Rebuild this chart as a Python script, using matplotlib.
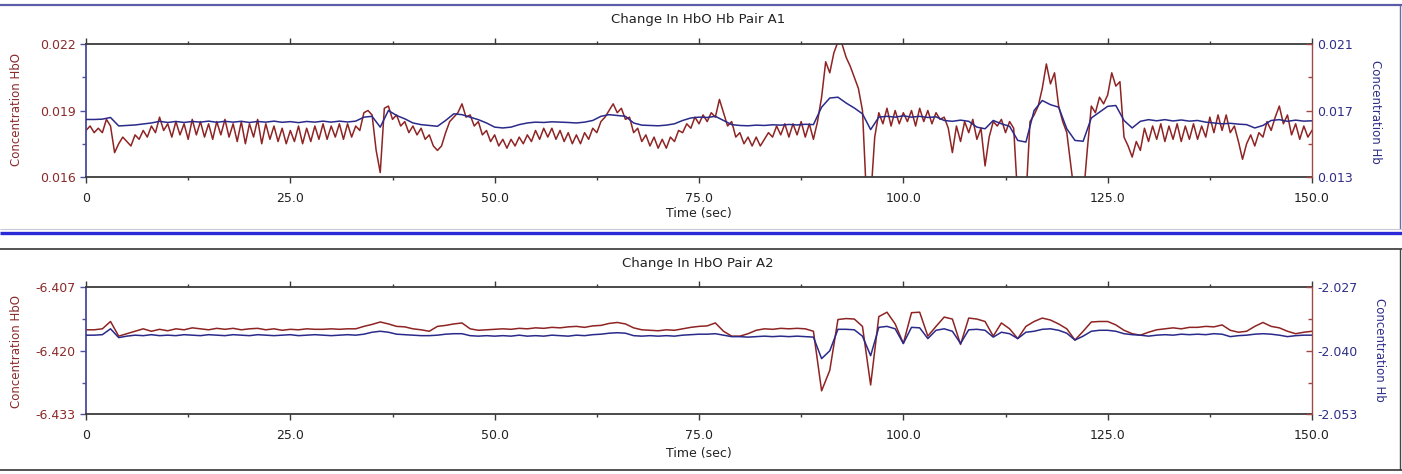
import numpy as np
import matplotlib
matplotlib.use("Agg")
import matplotlib.pyplot as plt
from matplotlib.lines import Line2D
from matplotlib.ticker import MultipleLocator, FuncFormatter

plt.rcParams['font.family'] = ['DejaVu Sans']

# ---------------- data ----------------
# Panel A1: HbO (left axis) sampled every 0.5 s
hbo_a1 = [
    0.0181, 0.0183, 0.0180, 0.0182, 0.0180, 0.0186, 0.0183, 0.0171, 0.0175, 0.0178,
    0.0176, 0.0174, 0.0179, 0.0177, 0.0181, 0.0178, 0.0183, 0.0180, 0.0187, 0.0181,
    0.0184, 0.0178, 0.0185, 0.0179, 0.0184, 0.0177, 0.0186, 0.0179, 0.0185, 0.0178,
    0.0184, 0.0177, 0.0185, 0.0179, 0.0186, 0.0178, 0.0184, 0.0176, 0.0185, 0.0175,
    0.0184, 0.0178, 0.0186, 0.0175, 0.0184, 0.0177, 0.0183, 0.0176, 0.0182, 0.0175,
    0.0181, 0.0176, 0.0183, 0.0175, 0.0182, 0.0176, 0.0183, 0.0177, 0.0184, 0.0177,
    0.0183, 0.0178, 0.0184, 0.0177, 0.0184, 0.0178, 0.0183, 0.0181, 0.0189, 0.0190,
    0.0188, 0.0172, 0.0162, 0.0191, 0.0192, 0.0186, 0.0188, 0.0183, 0.0185, 0.0180,
    0.0183, 0.0179, 0.0182, 0.0177, 0.0179, 0.0174, 0.0172, 0.0174, 0.0180, 0.0185,
    0.0187, 0.0189, 0.0193, 0.0187, 0.0188, 0.0183, 0.0185, 0.0179, 0.0181, 0.0176,
    0.0179, 0.0174, 0.0177, 0.0173, 0.0177, 0.0174, 0.0178, 0.0175, 0.0179, 0.0176,
    0.0181, 0.0177, 0.0182, 0.0178, 0.0182, 0.0177, 0.0181, 0.0176, 0.0180, 0.0175,
    0.0179, 0.0175, 0.0180, 0.0177, 0.0182, 0.0180, 0.0185, 0.0187, 0.0190, 0.0193,
    0.0189, 0.0191, 0.0186, 0.0187, 0.0180, 0.0182, 0.0176, 0.0179, 0.0174, 0.0178,
    0.0173, 0.0177, 0.0173, 0.0178, 0.0176, 0.0181, 0.0180, 0.0184, 0.0182, 0.0187,
    0.0184, 0.0188, 0.0185, 0.0189, 0.0187, 0.0195, 0.0189, 0.0183, 0.0185, 0.0178,
    0.0180, 0.0175, 0.0178, 0.0174, 0.0178, 0.0174, 0.0177, 0.0180, 0.0178, 0.0183,
    0.0179, 0.0184, 0.0178, 0.0184, 0.0179, 0.0185, 0.0178, 0.0184, 0.0177, 0.0185,
    0.0196, 0.0212, 0.0207, 0.0216, 0.0221, 0.0220, 0.0214, 0.0210, 0.0205, 0.0200,
    0.0190, 0.0150, 0.0150, 0.0178, 0.0189, 0.0184, 0.0191, 0.0183, 0.0190, 0.0184,
    0.0189, 0.0185, 0.0190, 0.0183, 0.0191, 0.0185, 0.0190, 0.0184, 0.0189, 0.0186,
    0.0187, 0.0182, 0.0171, 0.0183, 0.0176, 0.0185, 0.0180, 0.0186, 0.0177, 0.0182,
    0.0165, 0.0178, 0.0185, 0.0183, 0.0186, 0.0180, 0.0185, 0.0182, 0.0150, 0.0150,
    0.0150, 0.0185, 0.0188, 0.0192, 0.0200, 0.0211, 0.0202, 0.0207, 0.0192, 0.0185,
    0.0180, 0.0165, 0.0150, 0.0150, 0.0150, 0.0172, 0.0192, 0.0189, 0.0196, 0.0193,
    0.0197, 0.0207, 0.0201, 0.0203, 0.0178, 0.0174, 0.0169, 0.0176, 0.0172, 0.0182,
    0.0176, 0.0183, 0.0177, 0.0184, 0.0176, 0.0183, 0.0177, 0.0184, 0.0176, 0.0183,
    0.0177, 0.0184, 0.0177, 0.0183, 0.0178, 0.0187, 0.0180, 0.0188, 0.0181, 0.0188,
    0.0180, 0.0183, 0.0176, 0.0168, 0.0175, 0.0179, 0.0174, 0.0180, 0.0178, 0.0185,
    0.0181, 0.0187, 0.0192, 0.0184, 0.0188, 0.0179, 0.0184, 0.0177, 0.0183, 0.0178,
    0.0181,
]
# Panel A1: Hb (right axis) sampled every 1 s
hb_a1 = [
    0.01646, 0.01646, 0.01648, 0.01658, 0.01607, 0.01610, 0.01613, 0.01619, 0.01625, 0.01635,
    0.01628, 0.01634, 0.01628, 0.01634, 0.01630, 0.01636, 0.01629, 0.01635, 0.01630, 0.01635,
    0.01628, 0.01634, 0.01630, 0.01636, 0.01629, 0.01633, 0.01627, 0.01634, 0.01630, 0.01636,
    0.01630, 0.01636, 0.01631, 0.01636, 0.01660, 0.01665, 0.01600, 0.01700, 0.01670, 0.01650,
    0.01625, 0.01615, 0.01610, 0.01605, 0.01640, 0.01680, 0.01675, 0.01660, 0.01645, 0.01625,
    0.01600, 0.01595, 0.01600, 0.01615, 0.01625, 0.01630, 0.01628, 0.01632, 0.01630, 0.01628,
    0.01625, 0.01630, 0.01640, 0.01665, 0.01675, 0.01670, 0.01665, 0.01625, 0.01612, 0.01610,
    0.01608, 0.01612, 0.01620, 0.01640, 0.01655, 0.01660, 0.01658, 0.01665, 0.01640, 0.01615,
    0.01610, 0.01608, 0.01612, 0.01610, 0.01614, 0.01612, 0.01616, 0.01613, 0.01617, 0.01615,
    0.01720, 0.01775, 0.01780, 0.01745, 0.01715, 0.01680, 0.01585, 0.01660, 0.01665, 0.01660,
    0.01668, 0.01660, 0.01665, 0.01658, 0.01662, 0.01640, 0.01635, 0.01642, 0.01635, 0.01600,
    0.01590, 0.01640, 0.01620, 0.01605, 0.01520, 0.01510, 0.01700, 0.01760, 0.01735, 0.01720,
    0.01590, 0.01520, 0.01515, 0.01655, 0.01690, 0.01725, 0.01730, 0.01640, 0.01595, 0.01635,
    0.01645, 0.01638, 0.01645, 0.01637, 0.01643, 0.01636, 0.01640, 0.01630, 0.01625, 0.01620,
    0.01623, 0.01618, 0.01615, 0.01595, 0.01610, 0.01640, 0.01645, 0.01635, 0.01642, 0.01636,
    0.01638,
]
# Panel A2: HbO (left axis) sampled every 1 s
hbo_a2 = [
    -6.4157, -6.4157, -6.4155, -6.4140, -6.4170, -6.4165, -6.4160, -6.4155, -6.4160, -6.4156,
    -6.4159, -6.4155, -6.4157, -6.4153, -6.4155, -6.4157, -6.4154, -6.4156, -6.4154, -6.4157,
    -6.4155, -6.4154, -6.4157, -6.4155, -6.4158, -6.4156, -6.4157, -6.4155, -6.4156, -6.4156,
    -6.4155, -6.4156, -6.4155, -6.4155, -6.4150, -6.4146, -6.4141, -6.4145, -6.4150, -6.4151,
    -6.4155, -6.4157, -6.4160, -6.4150, -6.4148, -6.4145, -6.4143, -6.4155, -6.4158, -6.4157,
    -6.4156, -6.4155, -6.4156, -6.4154, -6.4155, -6.4153, -6.4154, -6.4152, -6.4153, -6.4151,
    -6.4150, -6.4152, -6.4149, -6.4148, -6.4144, -6.4142, -6.4145, -6.4153, -6.4157, -6.4158,
    -6.4159, -6.4157, -6.4158, -6.4155, -6.4152, -6.4150, -6.4149, -6.4143, -6.4160, -6.4170,
    -6.4170, -6.4165, -6.4158, -6.4155, -6.4156, -6.4154, -6.4155, -6.4154, -6.4155, -6.4160,
    -6.4282, -6.4240, -6.4136, -6.4134, -6.4135, -6.4150, -6.4270, -6.4130, -6.4121, -6.4145,
    -6.4185, -6.4122, -6.4121, -6.4170, -6.4150, -6.4131, -6.4135, -6.4187, -6.4133, -6.4135,
    -6.4140, -6.4170, -6.4143, -6.4155, -6.4175, -6.4150, -6.4140, -6.4133, -6.4137, -6.4145,
    -6.4155, -6.4178, -6.4160, -6.4141, -6.4140, -6.4140, -6.4147, -6.4158, -6.4165, -6.4168,
    -6.4162, -6.4157, -6.4155, -6.4153, -6.4155, -6.4152, -6.4152, -6.4150, -6.4151, -6.4147,
    -6.4158, -6.4162, -6.4160, -6.4150, -6.4142, -6.4150, -6.4153, -6.4160, -6.4165, -6.4162,
    -6.4160,
]
# Panel A2: Hb (right axis) sampled every 1 s
hb_a2 = [
    -2.0368, -2.0368, -2.0367, -2.0355, -2.0373, -2.0370, -2.0368, -2.0369, -2.0367, -2.0369,
    -2.0368, -2.0369, -2.0367, -2.0368, -2.0369, -2.0367, -2.0368, -2.0369, -2.0367, -2.0368,
    -2.0369, -2.0367, -2.0368, -2.0369, -2.0368, -2.0367, -2.0369, -2.0368, -2.0367, -2.0368,
    -2.0369, -2.0368, -2.0367, -2.0368, -2.0366, -2.0362, -2.0360, -2.0362, -2.0366, -2.0367,
    -2.0368, -2.0369, -2.0369, -2.0368, -2.0366, -2.0365, -2.0365, -2.0369, -2.0370, -2.0369,
    -2.0370, -2.0369, -2.0370, -2.0368, -2.0370, -2.0369, -2.0370, -2.0368, -2.0369, -2.0370,
    -2.0368, -2.0369, -2.0367, -2.0366, -2.0364, -2.0363, -2.0364, -2.0369, -2.0370, -2.0369,
    -2.0370, -2.0369, -2.0370, -2.0368, -2.0367, -2.0366, -2.0366, -2.0365, -2.0368, -2.0371,
    -2.0371, -2.0372, -2.0371, -2.0370, -2.0371, -2.0370, -2.0371, -2.0370, -2.0371, -2.0372,
    -2.0416, -2.0400, -2.0356, -2.0356, -2.0357, -2.0370, -2.0410, -2.0352, -2.0350, -2.0355,
    -2.0385, -2.0352, -2.0353, -2.0375, -2.0358, -2.0355, -2.0360, -2.0385, -2.0357, -2.0356,
    -2.0358, -2.0372, -2.0362, -2.0365, -2.0375, -2.0362, -2.0360, -2.0356, -2.0355, -2.0358,
    -2.0364, -2.0378, -2.0370, -2.0360, -2.0358, -2.0358, -2.0360, -2.0365, -2.0367, -2.0368,
    -2.0370, -2.0368, -2.0367, -2.0368, -2.0366, -2.0367, -2.0366, -2.0367, -2.0365, -2.0366,
    -2.0371, -2.0369, -2.0368, -2.0366, -2.0365, -2.0366, -2.0368, -2.0371, -2.0369, -2.0368,
    -2.0368,
]
t_half = np.arange(len(hbo_a1)) * 0.5
t_one = np.arange(len(hb_a1)) * 1.0
t_one2 = np.arange(len(hbo_a2)) * 1.0

titles = ["Change In HbO Hb Pair A1", "Change In HbO Pair A2"]
left_lims = [(0.016, 0.022), (-6.433, -6.407)]
right_lims = [(0.013, 0.021), (-2.053, -2.027)]

# ---------------- figure ----------------
W, H = 1402, 474
fig = plt.figure(figsize=(W / 100, H / 100), dpi=100)
fig.patch.set_facecolor('white')

RED = '#8e2424'
BLUE = '#2a2a8a'
LBL_RED = '#8b2a2a'
LBL_BLUE = '#2e2e88'
GRAY = '#3a3a3a'


def fx(px):
    return px / W


def fy(py):
    return 1 - py / H


def hline(y, x0, x1, color, lw):
    fig.add_artist(Line2D([fx(x0), fx(x1)], [fy(y), fy(y)], transform=fig.transFigure,
                          color=color, lw=lw, solid_capstyle='butt'))


def vline(x, y0, y1, color, lw):
    fig.add_artist(Line2D([fx(x), fx(x)], [fy(y0), fy(y1)], transform=fig.transFigure,
                          color=color, lw=lw, solid_capstyle='butt'))


# frame decorations
hline(5, 0, 1402, '#5c5ca8', 1.6)
vline(1400, 5, 229, '#6a6aa0', 1.0)
hline(229, 0, 1402, '#c8c8d8', 0.8)
hline(233, 0, 1402, '#2a2ad8', 2.4)
hline(249, 0, 1402, '#454545', 1.3)
hline(469.5, 0, 1402, '#454545', 1.3)
vline(1400, 249, 469.5, '#454545', 1.0)

xfmt = FuncFormatter(lambda v, p: '0' if abs(v) < 1e-9 else f'{v:.1f}')
yfmt = FuncFormatter(lambda v, p: f'{v:.3f}')

panels = [
    dict(rect=[fx(86), fy(177), fx(1312) - fx(86), fy(44) - fy(177)],
         tl=t_half, l=hbo_a1, tr=t_one, r=hb_a1, title_y=19, xlab_y=214,
         ll_y=110, rl_y=112, rl_x=1375),
    dict(rect=[fx(86), fy(414.3), fx(1312) - fx(86), fy(287.3) - fy(414.3)],
         tl=t_one2, l=hbo_a2, tr=t_one2, r=hb_a2, title_y=263, xlab_y=453,
         ll_y=352, rl_y=350, rl_x=1380),
]

for i, p in enumerate(panels):
    ax = fig.add_axes(p['rect'])
    axr = ax.twinx()
    ax.plot(p['tl'], p['l'], color=RED, lw=1.1)
    axr.plot(p['tr'], p['r'], color=BLUE, lw=1.1)
    ax.set_xlim(0, 150)
    ax.set_ylim(*left_lims[i])
    axr.set_ylim(*right_lims[i])

    ax.xaxis.set_major_locator(MultipleLocator(25))
    ax.xaxis.set_minor_locator(MultipleLocator(12.5))
    ax.xaxis.set_major_formatter(xfmt)
    lo, hi = left_lims[i]
    ax.set_yticks([lo, (lo + hi) / 2, hi])
    ax.set_yticks([lo + (hi - lo) / 4, lo + 3 * (hi - lo) / 4], minor=True)
    ax.yaxis.set_major_formatter(yfmt)
    lo2, hi2 = right_lims[i]
    axr.set_yticks([lo2, (lo2 + hi2) / 2, hi2])
    axr.set_yticks([lo2 + (hi2 - lo2) / 4, lo2 + 3 * (hi2 - lo2) / 4], minor=True)
    axr.yaxis.set_major_formatter(yfmt)

    ax.tick_params(axis='x', which='both', direction='out', top=True, bottom=True,
                   color=GRAY, labelcolor='#222222', labelsize=9, pad=6)
    ax.tick_params(axis='x', which='major', length=4.5, width=1.0)
    ax.tick_params(axis='x', which='minor', length=2.5, width=1.0)
    ax.tick_params(axis='y', which='both', direction='out', color='#5050a0',
                   labelcolor=LBL_RED, labelsize=9, pad=3)
    ax.tick_params(axis='y', which='major', length=4.5, width=1.0)
    ax.tick_params(axis='y', which='minor', length=3, width=1.0)
    axr.tick_params(axis='y', which='both', direction='in', color='#a04848',
                    labelcolor=LBL_BLUE, labelsize=9, pad=4)
    axr.tick_params(axis='y', which='major', length=4, width=1.0)
    axr.tick_params(axis='y', which='minor', length=3, width=1.0)

    for s in ['top', 'bottom']:
        ax.spines[s].set_color(GRAY)
        ax.spines[s].set_linewidth(1.3)
        axr.spines[s].set_visible(False)
    ax.spines['left'].set_color('#4a4aa0')
    ax.spines['left'].set_linewidth(1.3)
    ax.spines['right'].set_visible(False)
    axr.spines['left'].set_visible(False)
    axr.spines['right'].set_color('#a04848')
    axr.spines['right'].set_linewidth(1.0)

    fig.text(fx(698), fy(p['title_y']), titles[i], ha='center', va='center',
             fontsize=9.5, color='#222222')
    fig.text(fx(699), fy(p['xlab_y']), 'Time (sec)', ha='center', va='center',
             fontsize=9, color='#222222')
    fig.text(fx(17), fy(p['ll_y']), 'Concentration HbO', ha='center', va='center',
             rotation=90, fontsize=8.5, color=LBL_RED)
    fig.text(fx(p['rl_x']), fy(p['rl_y']), 'Concentration Hb', ha='center', va='center',
             rotation=270, fontsize=8.5, color=LBL_BLUE)

fig.savefig('out.png', dpi=100, facecolor='white')
